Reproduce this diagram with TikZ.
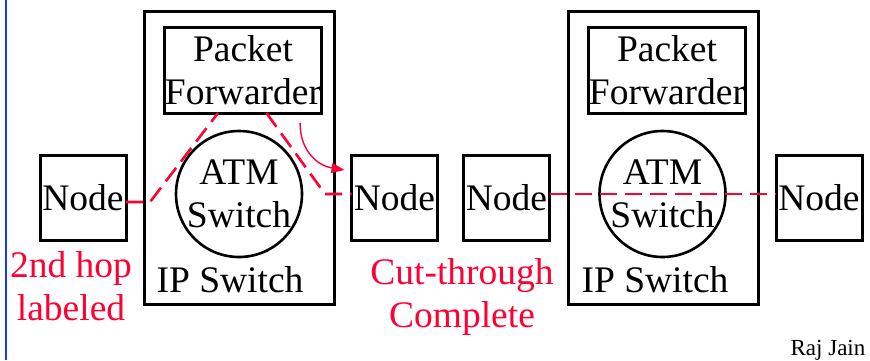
\documentclass[tikz,border=0pt]{standalone}
\usepackage{fontspec}
\setmainfont{Liberation Serif}
\usetikzlibrary{positioning,calc,arrows.meta}
\definecolor{hopred}{RGB}{255,0,51}
\definecolor{edgeblue}{RGB}{20,60,255}

\begin{document}
\begin{tikzpicture}[
    x=1pt,y=-1pt,
    every node/.style = {inner sep=0pt,outer sep=0pt,align=center,
        font=\fontsize{37.5}{43}\selectfont},
    nodebox/.style = {draw,line width=3pt,minimum width=86pt,minimum height=85pt},
    ipbox/.style = {draw,line width=3pt,minimum width=190pt,minimum height=293pt},
    fwdbox/.style = {draw,line width=3pt,minimum width=150pt,minimum height=86pt},
    atmcircle/.style = {draw,circle,line width=2.6pt,inner sep=-6pt,minimum size=126pt},
    hopline/.style = {color=hopred,line width=2.6pt,dash pattern=on 17pt off 8pt},
    redtext/.style = {text=hopred},
    ]
    \useasboundingbox (0,0) rectangle (870,360);
    \draw[edgeblue,line width=2.4pt] (6,0) -- (6,360);
    % left half: 2nd hop labeled
    \node[nodebox] (node-1) at (83,197.5) {Node};
    \node[ipbox] (ipsw-1) at (239,157.5) {};
    \node[fwdbox] (fwd-1) at (243,70) {Packet\\Forwarder};
    \node[atmcircle] (atm-1) at (239,194) {ATM\\Switch};
    \node[nodebox] (node-2) at (394.5,197.5) {Node};
    \node (iplabel-1) at (230,280) {IP Switch};
    \node[redtext] (hoplabel) at (71,286) {2nd hop\\labeled};
    % right half: cut-through complete
    \node[nodebox] (node-3) at (506.5,197.5) {Node};
    \node[ipbox] (ipsw-2) at (663,157.5) {};
    \node[fwdbox] (fwd-2) at (667,70) {Packet\\Forwarder};
    \node[atmcircle] (atm-2) at (662.5,194) {ATM\\Switch};
    \node[nodebox] (node-4) at (819,197.5) {Node};
    \node (iplabel-2) at (655,280) {IP Switch};
    \node[redtext] (cutlabel) at (462,297) {Cut-through\\Complete};
    \node[font=\fontsize{23}{26}\selectfont] (author) at (828,350) {Raj Jain};
    % hop paths
    \coordinate (bend-1) at (150,202);
    \coordinate (bend-2) at (325,194);
    \coordinate (fwdin) at ($(fwd-1.south west)!.34!(fwd-1.south east)$);
    \coordinate (fwdout) at ($(fwd-1.south west)!.65!(fwd-1.south east)$);
    \draw[hopline] (node-1.east |- bend-1) -- (bend-1) -- (fwdin);
    \draw[hopline] (fwdout) -- (bend-2) -- (node-2.west |- bend-2);
    \draw[hopline] (node-3.east |- atm-2) -- (node-4.west |- atm-2);
    \coordinate (arrstart) at ($(fwd-1.south east)+(-21,10)$);
    \coordinate (arrend) at ($(node-2.north west)+(-7,15)$);
    \draw[hopred,line width=1.4pt,-{Triangle[length=13pt,width=10pt]}]
        (arrstart) .. controls +(0,30) and +(-25,-4) .. (arrend);
\end{tikzpicture}
\end{document}
